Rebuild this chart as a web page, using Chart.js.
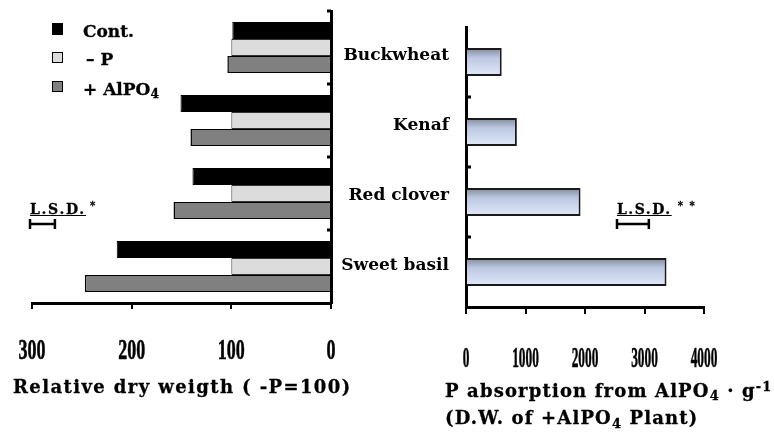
<!DOCTYPE html>
<html><head><meta charset="utf-8">
<script src="https://cdn.jsdelivr.net/npm/chart.js@4.4.1/dist/chart.umd.min.js"></script>
<style>
html,body{margin:0;padding:0;background:#fff;}
#wrap{position:relative;width:774px;height:437px;overflow:hidden;background:#fff;font-family:"DejaVu Serif",serif;font-weight:bold;color:#000;}
canvas{position:absolute;top:0;}
#c1{left:0;} #c2{left:340px;}
.t{position:absolute;white-space:nowrap;line-height:1;-webkit-text-stroke:0.3px #000;}
.sq{position:absolute;box-sizing:border-box;border:1.5px solid #000;}
.sb{font-size:0.72em;vertical-align:-0.28em;}
.sp{font-size:0.72em;vertical-align:0.45em;}
</style></head><body>
<div id="wrap">
<canvas id="c1" width="345" height="437"></canvas>
<canvas id="c2" width="434" height="437"></canvas>

<div class="sq" style="left:52px;top:23px;width:11px;height:12px;background:#000"></div>
<div class="t" style="left:83px;top:23px;font-size:17px">Cont.</div>
<div class="sq" style="left:52px;top:52px;width:11px;height:11px;background:#dcdcdc"></div>
<div class="t" style="left:86px;top:51px;font-size:17px">– P</div>
<div class="sq" style="left:52px;top:81px;width:11px;height:11px;background:#808080"></div>
<div class="t" style="left:83px;top:81px;font-size:17px">+ AlPO<span class="sb">4</span></div>

<div class="t" style="left:30px;top:201px;font-size:14px;letter-spacing:1.7px"><span style="text-decoration:underline">L.S.D.</span><span class="sp" style="margin-left:4px">*</span></div>
<div class="t" style="left:617px;top:201px;font-size:14px;letter-spacing:1.5px"><span style="text-decoration:underline">L.S.D.</span><span class="sp" style="margin-left:6px">* *</span></div>

<div class="t" style="left:13px;top:378px;font-size:18px;letter-spacing:1.4px">Relative dry weigth ( -P=100)</div>
<div class="t" style="left:445px;top:381px;font-size:18px;letter-spacing:1.15px">P absorption from AlPO<span class="sb">4</span> · g<span class="sp">-1</span></div>
<div class="t" style="left:445px;top:409px;font-size:18px;letter-spacing:1.15px">(D.W. of +AlPO<span class="sb">4</span> Plant)</div>
</div>
<script>
// ---- data ----
const categories = ['Buckwheat', 'Kenaf', 'Red clover', 'Sweet basil'];
const contValues = [99, 151, 139, 215];
const minusPValues = [100, 100, 100, 100];
const alpo4Values = [104, 141, 158, 247];
const absorptionValues = [600, 855, 1925, 3370];
const leftTickValues = [0, 100, 200, 300];
const rightTickValues = [0, 1000, 2000, 3000, 4000];
const lsdValues = [25, 535];

// condensed tick labels drawn at the library's tick positions
const condensedTicks = {
  id: 'condensedTicks',
  afterDraw(chart, args, o) {
    const s = chart.scales.x, ctx = chart.ctx;
    ctx.save();
    ctx.font = 'bold ' + o.size + 'px "Liberation Serif", serif';
    ctx.fillStyle = '#000';
    ctx.strokeStyle = '#000';
    ctx.lineWidth = 0.6;
    ctx.textAlign = 'center';
    ctx.textBaseline = 'middle';
    s.ticks.forEach((t, i) => {
      const x = s.getPixelForTick(i);
      ctx.save();
      ctx.translate(x, o.y);
      ctx.scale(o.sx, 1);
      ctx.fillText(String(t.value), 0, 0);
      ctx.strokeText(String(t.value), 0, 0);
      ctx.restore();
    });
    ctx.restore();
  }
};
// small marks between categories, inside the plot
const catNubs = {
  id: 'catNubs',
  afterDraw(chart, args, o) {
    const y = chart.scales.y, ctx = chart.ctx, a = chart.chartArea;
    const x0 = o.side === 'right' ? a.right : a.left;
    const dir = o.side === 'right' ? -1 : 1;
    ctx.save();
    ctx.fillStyle = '#000';
    const marks = [];
    if (o.top) marks.push(a.top);
    for (let i = 0; i < categories.length - 1; i++) {
      marks.push((y.getPixelForValue(i) + y.getPixelForValue(i + 1)) / 2);
    }
    marks.forEach(m => {
      ctx.fillRect(dir > 0 ? x0 : x0 - o.len, m - 1.5, o.len, 3);
    });
    ctx.restore();
  }
};
// LSD error bar, length from the x scale
const lsdBar = {
  id: 'lsdBar',
  afterDraw(chart, args, o) {
    const s = chart.scales.x, ctx = chart.ctx;
    const len = Math.abs(s.getPixelForValue(lsdValues[o.index]) - s.getPixelForValue(0));
    const x1 = o.x, x2 = o.x + len;
    ctx.save();
    ctx.strokeStyle = '#000';
    ctx.lineWidth = 2.5;
    ctx.beginPath();
    ctx.moveTo(x1, o.y); ctx.lineTo(x2, o.y);
    ctx.moveTo(x1, o.y - 5); ctx.lineTo(x1, o.y + 5);
    ctx.moveTo(x2, o.y - 5); ctx.lineTo(x2, o.y + 5);
    ctx.stroke();
    ctx.restore();
  }
};

Chart.defaults.font.family = '"DejaVu Serif", serif';
Chart.defaults.color = '#000';

new Chart(document.getElementById('c1'), {
  type: 'bar',
  data: {
    labels: categories,
    datasets: [
      { label: 'Cont.', data: contValues, backgroundColor: '#000', borderColor: '#000', borderWidth: 1 },
      { label: '-P', data: minusPValues, backgroundColor: '#dcdcdc', borderColor: '#333', borderWidth: 1 },
      { label: '+AlPO4', data: alpo4Values, backgroundColor: '#808080', borderColor: '#000', borderWidth: 1.5 }
    ]
  },
  options: {
    responsive: false,
    animation: false,
    indexAxis: 'y',
    categoryPercentage: 0.7,
    barPercentage: 1,
    layout: { padding: { left: 32, top: 11, right: 14, bottom: 0 } },
    plugins: {
      legend: { display: false },
      tooltip: { enabled: false },
      condensedTicks: { size: 29, sx: 0.62, y: 352 },
      catNubs: { side: 'right', len: 4, top: true },
      lsdBar: { index: 0, x: 30, y: 224 }
    },
    scales: {
      x: {
        type: 'linear', min: 0, max: 300, reverse: true,
        afterBuildTicks: s => { s.ticks = leftTickValues.map(v => ({ value: v })); },
        afterFit: s => { s.height = 437 - 303; },
        ticks: { display: false },
        grid: { drawOnChartArea: false, drawTicks: true, tickLength: 6, color: '#000', lineWidth: 2 },
        border: { display: true, color: '#000', width: 3 }
      },
      y: {
        position: 'right',
        afterFit: s => { s.width = 0; },
        ticks: { display: false },
        grid: { display: false },
        border: { display: true, color: '#000', width: 3 }
      }
    }
  },
  plugins: [condensedTicks, catNubs, lsdBar]
});

new Chart(document.getElementById('c2'), {
  type: 'bar',
  data: {
    labels: categories,
    datasets: [{
      label: 'P absorption',
      data: absorptionValues,
      borderColor: '#1a1a1a',
      borderWidth: 2,
      borderSkipped: 'start',
      backgroundColor: c => {
        const ch = c.chart, ys = ch.scales.y;
        if (!ys || !ch.chartArea || c.dataIndex == null) return '#c8d3ec';
        const yc = ys.getPixelForValue(c.dataIndex);
        const band = Math.abs(ys.getPixelForValue(1) - ys.getPixelForValue(0));
        const half = band * 0.4 / 2;
        const g = ch.ctx.createLinearGradient(0, yc - half, 0, yc + half);
        g.addColorStop(0, '#7f889a');
        g.addColorStop(0.35, '#bcc8e2');
        g.addColorStop(1, '#e2e9f8');
        return g;
      }
    }]
  },
  options: {
    responsive: false,
    animation: false,
    indexAxis: 'y',
    categoryPercentage: 0.4,
    barPercentage: 1,
    layout: { padding: { left: 0, top: 27, right: 70, bottom: 0 } },
    plugins: {
      legend: { display: false },
      tooltip: { enabled: false },
      condensedTicks: { size: 29, sx: 0.46, y: 360 },
      catNubs: { side: 'left', len: 5, top: false },
      lsdBar: { index: 1, x: 277, y: 224 }
    },
    scales: {
      x: {
        type: 'linear', min: 0, max: 4000,
        afterBuildTicks: s => { s.ticks = rightTickValues.map(v => ({ value: v })); },
        afterFit: s => { s.height = 437 - 307; },
        ticks: { display: false },
        grid: { drawOnChartArea: false, drawTicks: true, tickLength: 7, color: '#000', lineWidth: 2 },
        border: { display: true, color: '#000', width: 3 }
      },
      y: {
        position: 'left',
        afterFit: s => { s.width = 126; },
        ticks: { font: { size: 17, weight: 'bold', family: '"DejaVu Serif", serif' }, color: '#000', padding: 9, labelOffset: -6 },
        grid: { display: false },
        border: { display: true, color: '#000', width: 3 }
      }
    }
  },
  plugins: [condensedTicks, catNubs, lsdBar]
});
</script>
</body></html>
